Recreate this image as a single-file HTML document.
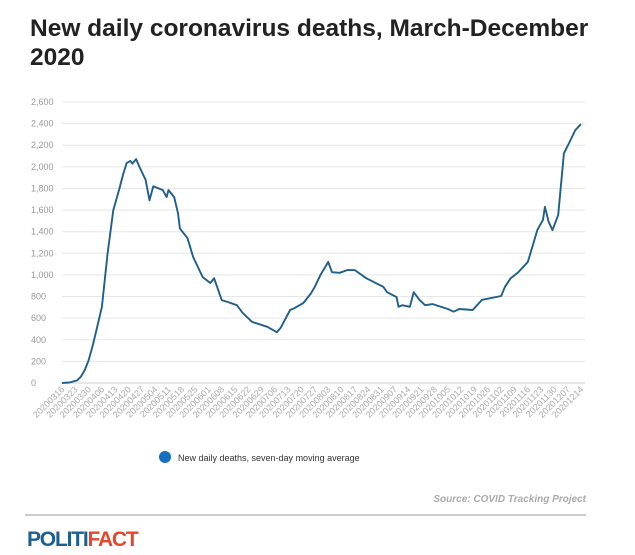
<!DOCTYPE html>
<html><head><meta charset="utf-8"><style>
body{margin:0;background:#fff;width:635px;height:555px;overflow:hidden;font-family:"Liberation Sans",sans-serif;}
#title{position:absolute;left:30px;top:14px;width:600px;font-size:24.5px;font-weight:bold;line-height:29px;color:#222;margin:0}
svg{position:absolute;left:0;top:0}
</style></head><body>
<h1 id="title">New daily coronavirus deaths, March-December 2020</h1>
<svg id="chart" width="635" height="555"></svg>
<script>
const yTicks=[0,200,400,600,800,1000,1200,1400,1600,1800,2000,2200,2400,2600];
const xLabels=[];
const dayOffsets=[0,4,8,10,12,14,16,18,21,24,27,30,32,34,36,37,39,41,44,46,48,53,55,56,59,61,62,66,69,74,78,80,84,87,92,95,100,108,113,115,120,122,127,131,133,136,138,140,142,146,150,154,160,169,171,176,177,179,183,185,188,191,195,203,206,209,216,221,231,233,236,240,245,248,250,253,254,256,258,261,264,267,270,273];
const deaths=[0,5,25,60,120,210,335,480,705,1200,1600,1785,1920,2035,2055,2030,2072,1990,1880,1690,1820,1785,1720,1785,1720,1570,1430,1340,1165,980,925,970,767,750,720,650,565,520,470,510,675,690,740,830,890,1000,1060,1120,1025,1020,1045,1045,970,890,840,795,705,720,705,840,770,720,730,685,660,685,675,770,805,890,970,1025,1120,1295,1415,1510,1630,1490,1415,1555,2125,2230,2340,2395];
(function(){const s=new Date(2020,2,16);for(let i=0;i<40;i++){const d=new Date(s.getTime()+i*7*864e5+36e5*3);xLabels.push(''+d.getFullYear()+String(d.getMonth()+1).padStart(2,'0')+String(d.getDate()).padStart(2,'0'));}})();
const svg=document.getElementById('chart');const NS='http://www.w3.org/2000/svg';
const x0=62,x1=581,y0=383,y1=102,maxDay=273,maxV=2600;
const X=d=>x0+(x1-x0)*d/maxDay;const Y=v=>y0-(y0-y1)*v/maxV;
function el(t,a){const e=document.createElementNS(NS,t);for(const k in a)e.setAttribute(k,a[k]);svg.appendChild(e);return e;}
yTicks.forEach(v=>{
const g=el('line',{x1:62,x2:585,y1:Y(v),y2:Y(v),stroke:v===0?'#ccc':'#e6e6e6','stroke-width':1});


const t=el('text',{x:31,y:Y(v)+3,'font-size':9,fill:'#999'});t.textContent=v.toLocaleString('en-US');


});
xLabels.forEach((l,i)=>{const xx=X(i*7)+3,yy=390;
const t=el('text',{x:xx,y:yy,'font-size':9,fill:'#aaa','text-anchor':'end',transform:`rotate(-45 ${xx} ${yy})`});t.textContent=l;


});
const p=el('path',{d:dayOffsets.map((d,i)=>(i?'L':'M')+X(d).toFixed(1)+' '+Y(deaths[i]).toFixed(1)).join(''),fill:'none',stroke:'#1f5f8b','stroke-width':1.9,'stroke-linejoin':'round'});


const c=el('circle',{cx:165,cy:457,r:6,fill:'#1570c0'});


const lt=el('text',{x:178,y:461,'font-size':9,fill:'#333'});lt.textContent='New daily deaths, seven-day moving average';


const src=el('text',{x:586,y:502,'font-size':10,'font-style':'italic','font-weight':'bold',fill:'#aaa','text-anchor':'end'});src.textContent='Source: COVID Tracking Project';


const hr=el('line',{x1:25,x2:586,y1:515,y2:515,stroke:'#999','stroke-width':1});


const logo=el('text',{x:27,y:546,'font-size':21,'font-weight':'bold','letter-spacing':-1.2});


const a=document.createElementNS(NS,'tspan');a.setAttribute('fill','#1d5f8e');a.textContent='POLITI';logo.appendChild(a);
const b=document.createElementNS(NS,'tspan');b.setAttribute('fill','#e5462c');b.textContent='FACT';logo.appendChild(b);
</script>
</body></html>
